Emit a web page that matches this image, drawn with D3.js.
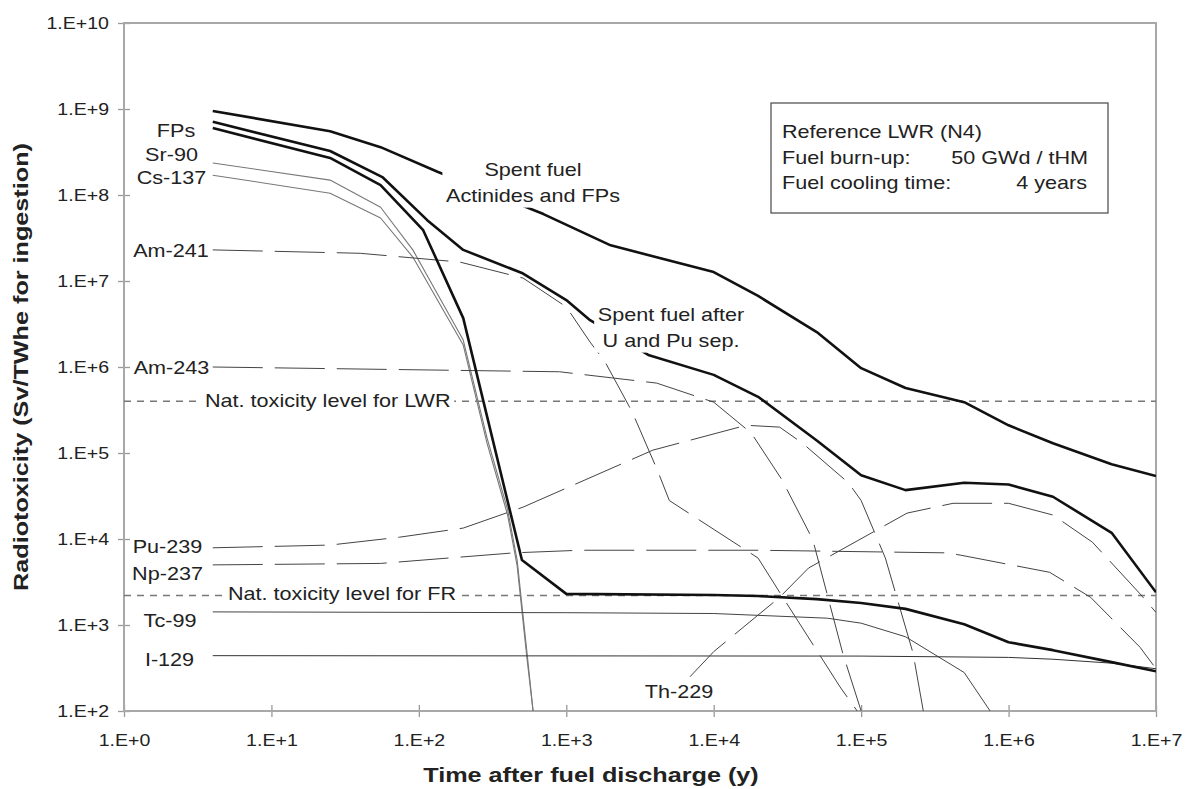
<!DOCTYPE html>
<html>
<head>
<meta charset="utf-8">
<script src="https://cdn.jsdelivr.net/npm/d3@7"></script>
<style>
  body { margin: 0; background: #fff; }
  svg { display: block; font-family: "Liberation Sans", Arial, sans-serif; }
  text { fill: #222; }
</style>
</head>
<body>
<svg></svg>
<script>
const xTickValues = [1, 1e1, 1e2, 1e3, 1e4, 1e5, 1e6, 1e7]
const xTickLabels = ["1.E+0", "1.E+1", "1.E+2", "1.E+3", "1.E+4", "1.E+5", "1.E+6", "1.E+7"]
const yTickValues = [1e2, 1e3, 1e4, 1e5, 1e6, 1e7, 1e8, 1e9, 1e10]
const yTickLabels = ["1.E+2", "1.E+3", "1.E+4", "1.E+5", "1.E+6", "1.E+7", "1.E+8", "1.E+9", "1.E+10"]

// [time (y), radiotoxicity (Sv/TWhe)]
const spentFuel = [[4, 9.5e8], [25, 5.5e8], [55, 3.6e8], [135, 1.85e8], [700, 6.0e7], [2000, 2.6e7],
  [1e4, 1.27e7], [2e4, 6.7e6], [5e4, 2.55e6], [1e5, 9.7e5], [2e5, 5.7e5], [5e5, 3.9e5],
  [1e6, 2.1e5], [2e6, 1.3e5], [5e6, 7.4e4], [1e7, 5.4e4]]
const afterSep = [[4, 7.1e8], [25, 3.25e8], [57, 1.6e8], [114, 5.1e7], [200, 2.3e7], [500, 1.24e7],
  [1000, 6.0e6], [1450, 3.5e6], [3600, 1.38e6], [1e4, 8.1e5], [2e4, 4.5e5], [5e4, 1.4e5],
  [1e5, 5.5e4], [2e5, 3.7e4], [5e5, 4.5e4], [1e6, 4.3e4], [2e6, 3.1e4], [5e6, 1.18e4], [1e7, 2.4e3]]
const fps = [[4, 6.0e8], [25, 2.7e8], [55, 1.3e8], [107, 3.9e7], [200, 3.7e6], [500, 5.7e3],
  [1000, 2.3e3], [1e4, 2.23e3], [2e4, 2.17e3], [5e4, 2.0e3], [1e5, 1.8e3], [2e5, 1.54e3],
  [5e5, 1.02e3], [1e6, 6.3e2], [2e6, 5.1e2], [5e6, 3.7e2], [1e7, 2.9e2]]
const sr90 = [[4, 2.36e8], [25, 1.49e8], [55, 7.2e7], [91, 2.3e7], [200, 2.06e6], [290, 1.5e5],
  [400, 2.2e4], [464, 5.7e3], [542, 470], [595, 100]]
const cs137 = [[4, 1.7e8], [25, 1.05e8], [55, 5.4e7], [91, 1.9e7], [200, 1.8e6], [290, 1.3e5],
  [400, 1.9e4], [464, 4.9e3], [542, 400], [600, 90]]
const am241 = [[4, 2.3e7], [40, 2.1e7], [190, 1.66e7], [510, 1.08e7], [1000, 5.0e6], [1450, 1.95e6],
  [1830, 1.15e6], [2800, 3.0e5], [4150, 6.3e4], [5000, 2.8e4], [2e4, 6.0e3], [2.8e4, 2.4e3],
  [7.2e4, 190], [9.4e4, 100]]
const am243 = [[4, 1.0e6], [900, 8.8e5], [4100, 6.5e5], [1e4, 3.9e5], [1.8e4, 1.7e5], [2.9e4, 4.9e4],
  [4.7e4, 9.8e3], [7.5e4, 470], [1e5, 100]]
const pu239 = [[4, 7.9e3], [25, 8.5e3], [74, 1.05e4], [200, 1.34e4], [510, 2.35e4], [3870, 1.08e5],
  [1.66e4, 2.1e5], [2.8e4, 2.0e5], [4.0e4, 1.3e5], [8.2e4, 4.5e4], [1e5, 2.8e4], [1.46e5, 6.0e3],
  [2.25e5, 470], [2.64e5, 100]]
const np237 = [[4, 5.0e3], [55, 5.2e3], [440, 6.9e3], [1240, 7.4e3], [2e4, 7.4e3], [3.8e5, 6.9e3],
  [4.7e5, 6.5e3], [1.9e6, 4.1e3], [3.6e6, 2.1e3], [7.8e6, 550], [1e7, 310]]
const tc99 = [[4, 1.42e3], [1e3, 1.39e3], [1e4, 1.36e3], [5.9e4, 1.2e3], [1e5, 1.05e3], [2e5, 730],
  [5e5, 280], [7.5e5, 100]]
const i129 = [[4, 4.4e2], [1e5, 4.35e2], [1e6, 4.2e2], [2e6, 4.0e2], [5e6, 3.6e2], [1e7, 3.1e2]]
const th229 = [[6900, 250], [1e4, 490], [2.8e4, 2.1e3], [4.4e4, 4.6e3], [2.05e5, 2.0e4], [4.2e5, 2.6e4],
  [1e6, 2.6e4], [2e6, 1.9e4], [3.7e6, 9.2e3], [7.8e6, 2.3e3], [1e7, 1.4e3]]

const natLevels = [4.0e5, 2.2e3]

const SX = 1.2

const svg = d3.select("svg")

svg
  .attr("width", 1190)
  .attr("height", 789)

const scaleX = d3.scaleLog()
  .domain([1, 1e7])
  .range([124, 1156])

const scaleY = d3.scaleLog()
  .domain([1e2, 1e10])
  .range([711, 23])

svg.append("defs")
  .append("clipPath")
  .attr("id", "plot")
  .append("rect")
  .attr("x", 124)
  .attr("y", 23)
  .attr("width", 1032)
  .attr("height", 688)

// axes
const axisY = d3.axisLeft(scaleY)
  .tickValues(yTickValues)
  .tickFormat((d, i) => { return yTickLabels[i] })

const axisX = d3.axisBottom(scaleX)
  .tickValues(xTickValues)
  .tickFormat((d, i) => { return xTickLabels[i] })

const axisYGroup = svg.append("g")
  .attr("transform", "translate(124, 0)")
  .call(axisY)

const axisXGroup = svg.append("g")
  .attr("transform", "translate(0, 711)")
  .call(axisX)

svg.selectAll(".domain").remove()

axisYGroup.selectAll(".tick line")
  .attr("x1", -6)
  .attr("x2", 6)
  .attr("stroke", "#999")
  .attr("stroke-width", 1.3)

axisXGroup.selectAll(".tick line")
  .attr("y1", -6)
  .attr("y2", 6)
  .attr("stroke", "#999")
  .attr("stroke-width", 1.3)

axisYGroup.selectAll(".tick text")
  .attr("x", -12.5)
  .attr("dy", "0.34em")
  .attr("transform", `scale(${SX}, 1)`)
  .style("font-size", "16.3px")
  .style("fill", "#222")

axisXGroup.selectAll(".tick text")
  .attr("x", 0)
  .attr("y", 23)
  .attr("dy", "0.71em")
  .attr("transform", `scale(${SX}, 1)`)
  .style("font-size", "16.3px")
  .style("fill", "#222")

svg.append("rect")
  .attr("x", 124)
  .attr("y", 23)
  .attr("width", 1032)
  .attr("height", 688)
  .attr("fill", "none")
  .attr("stroke", "#a8a8a8")
  .attr("stroke-width", 2)

const plot = svg.append("g")
  .attr("clip-path", "url(#plot)")

// natural toxicity levels
plot.selectAll("line.nat")
  .data(natLevels)
  .enter()
  .append("line")
  .attr("class", "nat")
  .attr("x1", scaleX(1))
  .attr("x2", scaleX(1e7))
  .attr("y1", (d, i) => { return scaleY(d) })
  .attr("y2", (d, i) => { return scaleY(d) })
  .attr("stroke", "#777")
  .attr("stroke-width", 1.4)
  .attr("stroke-dasharray", "7,6")

const line = d3.line()
  .x((d, i) => { return scaleX(d[0]) })
  .y((d, i) => { return scaleY(d[1]) })

const curves = [
  { data: sr90, color: "#777", width: 1.1, dash: null },
  { data: cs137, color: "#777", width: 1.1, dash: null },
  { data: tc99, color: "#444", width: 1, dash: null },
  { data: i129, color: "#333", width: 1, dash: null },
  { data: am241, color: "#444", width: 1, dash: "50,12" },
  { data: am243, color: "#444", width: 1, dash: "50,12" },
  { data: pu239, color: "#444", width: 1, dash: "50,12" },
  { data: np237, color: "#444", width: 1, dash: "50,12" },
  { data: th229, color: "#444", width: 1, dash: "50,12" },
  { data: fps, color: "#111", width: 2.6, dash: null },
  { data: afterSep, color: "#111", width: 2.6, dash: null },
  { data: spentFuel, color: "#111", width: 2.6, dash: null }
]

plot.selectAll("path.curve")
  .data(curves)
  .enter()
  .append("path")
  .attr("class", "curve")
  .attr("d", (d, i) => { return line(d.data) })
  .attr("fill", "none")
  .attr("stroke", (d, i) => { return d.color })
  .attr("stroke-width", (d, i) => { return d.width })
  .attr("stroke-dasharray", (d, i) => { return d.dash })
  .attr("stroke-linejoin", "round")

// text helper, the original lettering is wide so every label is stretched
const addText = function(x, y, lines, anchor, size, bg) {
  const g = svg.append("g")
    .attr("transform", `translate(${x}, ${y}) scale(${SX}, 1)`)
  const texts = lines.map((s, i) => {
    return g.append("text")
      .attr("x", 0)
      .attr("y", i * 26)
      .attr("text-anchor", anchor)
      .style("font-size", size + "px")
      .text(s)
  })
  if (bg) {
    const boxes = texts.map((t) => { return t.node().getBBox() })
    const x0 = d3.min(boxes, (b) => { return b.x }) - 3
    const x1 = d3.max(boxes, (b) => { return b.x + b.width }) + 3
    const y0 = d3.min(boxes, (b) => { return b.y }) - 2
    const y1 = d3.max(boxes, (b) => { return b.y + b.height }) + 2
    g.insert("rect", "text")
      .attr("x", x0)
      .attr("y", y0)
      .attr("width", x1 - x0)
      .attr("height", y1 - y0)
      .attr("fill", "#fff")
  }
  return g
}

addText(176, 137, ["FPs"], "middle", 18, false)
addText(171.5, 161, ["Sr-90"], "middle", 18, false)
addText(171.5, 184, ["Cs-137"], "middle", 18, false)
addText(171, 257, ["Am-241"], "middle", 18, false)
addText(171.5, 374, ["Am-243"], "middle", 18, false)
addText(167.5, 553, ["Pu-239"], "middle", 18, false)
addText(167.5, 580, ["Np-237"], "middle", 18, false)
addText(170, 627, ["Tc-99"], "middle", 18, false)
addText(169.5, 666, ["I-129"], "middle", 18, false)

addText(205, 407, ["Nat. toxicity level for LWR"], "start", 18, true)
addText(228, 600, ["Nat. toxicity level for FR"], "start", 18, true)
addText(679, 698, ["Th-229"], "middle", 18, true)
addText(533, 176, ["Spent fuel", "Actinides and FPs"], "middle", 18, true)
addText(671, 321, ["Spent fuel after", "U and Pu sep."], "middle", 18, true)

// reference box
svg.append("rect")
  .attr("x", 771)
  .attr("y", 103)
  .attr("width", 337)
  .attr("height", 110)
  .attr("fill", "#fff")
  .attr("stroke", "#555")
  .attr("stroke-width", 1.3)

addText(782, 138, ["Reference LWR (N4)"], "start", 18, false)
addText(782, 164, ["Fuel burn-up:"], "start", 18, false)
addText(782, 189, ["Fuel cooling time:"], "start", 18, false)
addText(1088, 164, ["50 GWd / tHM"], "end", 18, false)
addText(1087, 189, ["4 years"], "end", 18, false)

// axis titles
svg.append("text")
  .attr("transform", `translate(591, 782) scale(${SX}, 1)`)
  .attr("text-anchor", "middle")
  .style("font-size", "21px")
  .style("font-weight", "bold")
  .text("Time after fuel discharge (y)")

svg.append("text")
  .attr("transform", `translate(28, 367) rotate(-90) scale(${SX}, 1)`)
  .attr("text-anchor", "middle")
  .style("font-size", "21px")
  .style("font-weight", "bold")
  .text("Radiotoxicity (Sv/TWhe for ingestion)")
</script>
</body>
</html>
